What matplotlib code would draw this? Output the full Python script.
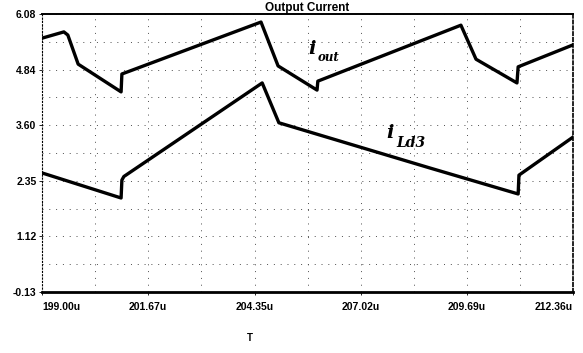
import matplotlib
matplotlib.use('Agg')
import matplotlib.pyplot as plt
import numpy as np

# time axis in microseconds, currents in A
t_out = [199.00, 199.55, 199.65, 199.91, 200.99, 201.01, 204.51, 204.94,
         205.92, 205.94, 209.54, 209.92, 210.95, 210.98, 212.36]
i_out = [5.54, 5.68, 5.61, 4.96, 4.34, 4.74, 5.90, 4.92,
         4.38, 4.58, 5.83, 5.07, 4.54, 4.90, 5.39]

t_ld3 = [199.00, 200.99, 201.01, 201.06, 204.54, 204.96, 208.76, 210.98, 211.00, 212.36]
i_ld3 = [2.53, 1.97, 2.37, 2.45, 4.54, 3.65, 2.64, 2.06, 2.48, 3.33]

xticks = [199.00, 201.67, 204.35, 207.02, 209.69, 212.36]
xlabels = ['199.00u', '201.67u', '204.35u', '207.02u', '209.69u', '212.36u']
yticks = [-0.13, 1.12, 2.35, 3.60, 4.84, 6.08]
ylabels = ['-0.13', '1.12', '2.35', '3.60', '4.84', '6.08']

plt.rcParams['font.family'] = ['Liberation Sans', 'DejaVu Sans']

fig = plt.figure(figsize=(5.83, 3.53), dpi=100)
ax = fig.add_axes([42/583, 1-292/353, 531/583, 278/353])

ax.plot(t_out, i_out, color='black', lw=2.4, solid_joinstyle='round')
ax.plot(t_ld3, i_ld3, color='black', lw=2.4, solid_joinstyle='round')

ax.set_xlim(xticks[0], xticks[-1])
ax.set_ylim(yticks[0], yticks[-1])

ax.set_xticks(xticks)
ax.set_xticklabels(xlabels, fontsize=7.5, fontweight='bold')
ax.set_yticks(yticks)
ax.set_yticklabels(ylabels, fontsize=7.5, fontweight='bold')
lbls = ax.get_xticklabels()
lbls[0].set_ha('left')
lbls[-1].set_ha('right')

# grid at every half tick
ax.set_xticks([(a + b) / 2 for a, b in zip(xticks[:-1], xticks[1:])], minor=True)
ax.set_yticks([(a + b) / 2 for a, b in zip(yticks[:-1], yticks[1:])], minor=True)
ax.grid(True, which='both', color='0.3', lw=0.7, linestyle=(0, (1, 6)))
ax.tick_params(which='minor', length=0)
ax.tick_params(which='major', length=2, width=0.6, pad=2)
ax.tick_params(axis='x', pad=5)

ax.spines['top'].set_linewidth(1.4)
ax.spines['bottom'].set_linewidth(2.0)
ax.spines['left'].set_linewidth(0.8)
ax.spines['left'].set_linestyle((0, (1, 2)))
ax.spines['right'].set_linewidth(1.2)
ax.spines['right'].set_linestyle((0, (2, 1.5)))

ax.set_title('Output Current', fontsize=8.5, fontweight='bold', pad=1.0, x=0.5)

lab = dict(family='DejaVu Serif', style='italic', weight='bold', color='black',
           transform=ax.transAxes, ha='center', va='center')
ax.text(0.508, 0.874, 'i', fontsize=14, **lab)
ax.text(0.540, 0.842, 'out', fontsize=8.5, **lab)
ax.text(0.655, 0.572, 'i', fontsize=14, **lab)
ax.text(0.695, 0.536, 'Ld3', fontsize=10, **lab)

fig.text(250/583, 1-338/353, 'T', fontsize=7, fontweight='bold', ha='center', va='center')

fig.savefig('out.png', dpi=100)
